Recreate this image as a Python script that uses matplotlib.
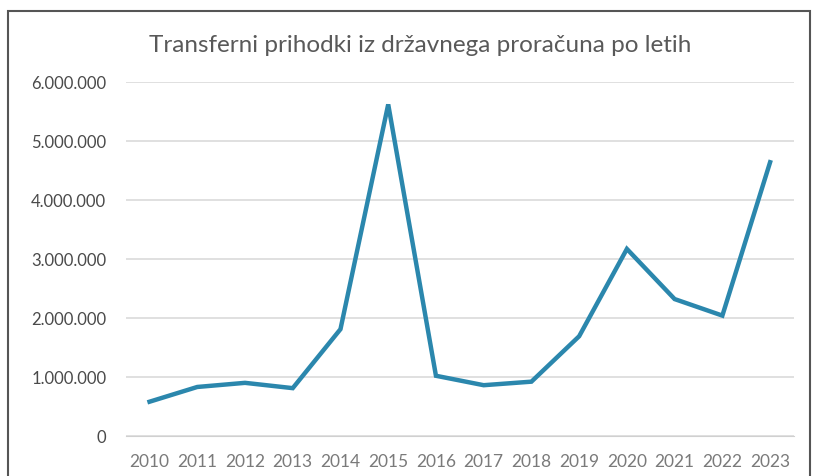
import matplotlib.pyplot as plt
from matplotlib.patches import Rectangle
from matplotlib.ticker import FuncFormatter

# Podatki
leta = ["2010", "2011", "2012", "2013", "2014", "2015", "2016",
        "2017", "2018", "2019", "2020", "2021", "2022", "2023"]
prihodki = [580000, 830000, 900000, 810000, 1810000, 5620000, 1020000,
            860000, 920000, 1690000, 3170000, 2320000, 2040000, 4640000]
naslov = "Transferni prihodki iz državnega proračuna po letih"

plt.rcParams['font.family'] = ['Lato', 'DejaVu Sans']

fig = plt.figure(figsize=(8.16, 4.77), dpi=100)
ax = fig.add_axes([0.154, 0.084, 0.819, 0.742])

x = list(range(len(leta)))
ax.plot(x, prihodki, color="#2b87ad", linewidth=3.2, solid_joinstyle="miter")

ax.set_xlim(-0.5, len(leta) - 0.5)
ax.set_ylim(0, 6000000)
ax.set_yticks(range(0, 6000001, 1000000))
ax.yaxis.set_major_formatter(FuncFormatter(lambda v, p: f"{int(v):,}".replace(",", ".")))
ax.set_xticks(x)
ax.set_xticklabels(leta)

ax.grid(axis="y", color="#dadada", linewidth=1.2)
ax.set_axisbelow(True)
for s in ax.spines.values():
    s.set_visible(False)
ax.spines["bottom"].set_visible(True)
ax.spines["bottom"].set_color("#d0d0d0")
ax.tick_params(axis="x", length=0, labelsize=12.5, colors="#7a7a7a", pad=12)
ax.tick_params(axis="y", length=0, labelsize=12, colors="#4a4a4a", pad=14)

fig.text(0.515, 0.905, naslov, ha="center", va="center", fontsize=17.5, color="#595959")

# okvir grafa
fig.patches.append(Rectangle((8 / 816, -0.05), 802 / 816, 1.05 - 12 / 477,
                             transform=fig.transFigure, fill=False,
                             edgecolor="#555555", linewidth=1.5))

fig.savefig("out.png", dpi=100)
